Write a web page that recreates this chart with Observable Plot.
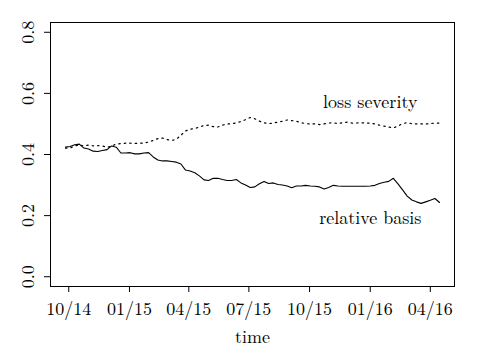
<!DOCTYPE html>
<html><head><meta charset="utf-8">
<script src="https://cdn.jsdelivr.net/npm/d3@7"></script>
<script src="https://cdn.jsdelivr.net/npm/@observablehq/plot@0.6"></script>
<style>body{margin:0;background:#fff} svg, svg text{font-family:"Latin Modern Roman","Liberation Serif",serif !important;}</style>
</head><body><div id="chart"></div>
<script>
const dates = [
"2014-09-26","2014-10-03","2014-10-10","2014-10-17","2014-10-24","2014-10-31","2014-11-07","2014-11-14","2014-11-21","2014-11-28",
"2014-12-05","2014-12-12","2014-12-19","2014-12-26","2015-01-02","2015-01-09","2015-01-16","2015-01-23","2015-01-30","2015-02-06",
"2015-02-13","2015-02-20","2015-02-27","2015-03-06","2015-03-13","2015-03-20","2015-03-27","2015-04-03","2015-04-10","2015-04-17",
"2015-04-24","2015-05-01","2015-05-08","2015-05-15","2015-05-22","2015-05-29","2015-06-05","2015-06-12","2015-06-19","2015-06-26",
"2015-07-03","2015-07-10","2015-07-17","2015-07-24","2015-07-31","2015-08-07","2015-08-14","2015-08-21","2015-08-28","2015-09-04",
"2015-09-11","2015-09-18","2015-09-25","2015-10-02","2015-10-09","2015-10-16","2015-10-23","2015-10-30","2015-11-06","2015-11-13",
"2015-11-20","2015-11-27","2015-12-04","2015-12-11","2015-12-18","2015-12-25","2016-01-01","2016-01-08","2016-01-15","2016-01-22",
"2016-01-29","2016-02-05","2016-02-12","2016-02-19","2016-02-26","2016-03-04","2016-03-11","2016-03-18","2016-03-25","2016-04-01",
"2016-04-08","2016-04-15"];
const relativeBasis = [
0.424,0.426,0.432,0.434,0.421,0.418,0.411,0.410,0.413,0.416,
0.428,0.424,0.405,0.405,0.406,0.402,0.402,0.405,0.406,0.392,
0.382,0.379,0.379,0.377,0.375,0.369,0.349,0.346,0.340,0.330,
0.317,0.315,0.322,0.322,0.318,0.315,0.315,0.318,0.307,0.300,
0.292,0.294,0.304,0.312,0.305,0.307,0.302,0.300,0.297,0.291,
0.297,0.297,0.299,0.297,0.296,0.294,0.287,0.292,0.299,0.297,
0.296,0.296,0.296,0.296,0.296,0.296,0.297,0.299,0.305,0.309,
0.312,0.322,0.304,0.284,0.264,0.251,0.245,0.240,0.245,0.250,
0.256,0.243];
const lossSeverity = [
0.421,0.421,0.428,0.431,0.428,0.431,0.428,0.429,0.428,0.423,
0.428,0.434,0.436,0.437,0.437,0.436,0.437,0.437,0.441,0.446,
0.452,0.454,0.449,0.446,0.450,0.463,0.477,0.483,0.485,0.490,
0.495,0.496,0.491,0.490,0.496,0.500,0.501,0.503,0.508,0.514,
0.521,0.517,0.509,0.504,0.501,0.503,0.506,0.509,0.513,0.511,
0.509,0.504,0.501,0.500,0.500,0.498,0.500,0.503,0.504,0.501,
0.504,0.506,0.503,0.503,0.504,0.503,0.503,0.500,0.496,0.493,
0.490,0.487,0.493,0.501,0.504,0.501,0.500,0.500,0.500,0.501,
0.503,0.503];
const xTickDates = ["2014-10-01","2015-01-01","2015-04-01","2015-07-01","2015-10-01","2016-01-01","2016-04-01"];
const yTicks = [0, 0.2, 0.4, 0.6, 0.8];
const labelTexts = ["loss severity", "relative basis"];
const labelDates = ["2016-01-01", "2016-01-01"];
const labelValues = [0.57, 0.19];
const xTitle = "time";

const parse = d3.utcParse("%Y-%m-%d");
const rows = dates.map((d, i) => ({date: parse(d), rb: relativeBasis[i], ls: lossSeverity[i]}));
const labels = labelTexts.map((t, i) => ({text: t, date: parse(labelDates[i]), v: labelValues[i]}));
const t0 = rows[0].date, t1 = rows[rows.length - 1].date;
const pad = (t1 - t0) * 0.04;
const FONT = "Latin Modern Roman, Liberation Serif, serif";

const chart = Plot.plot({
  width: 480, height: 360,
  marginLeft: 50, marginRight: 26, marginTop: 22, marginBottom: 74,
  style: {fontFamily: FONT, fontSize: "18px", color: "#000", background: "#fff"},
  x: {type: "utc", domain: [new Date(+t0 - pad), new Date(+t1 + pad)]},
  y: {domain: [-0.032, 0.832]},
  marks: [
    Plot.frame({stroke: "#000", strokeWidth: 1}),
    Plot.axisX({ticks: xTickDates.map(parse), tickFormat: d3.utcFormat("%m/%y"), tickSize: 6, tickPadding: 10, label: null, fontSize: 18}),
    Plot.axisY({ticks: yTicks, tickFormat: d3.format(".1f"), tickSize: 6, tickRotate: -90, tickPadding: 11, label: null, fontSize: 18}),
    Plot.lineY(rows, {x: "date", y: "ls", stroke: "#000", strokeWidth: 1.2, strokeDasharray: "1.5,4"}),
    Plot.lineY(rows, {x: "date", y: "rb", stroke: "#000", strokeWidth: 1.1}),
    Plot.text(labels, {x: "date", y: "v", text: "text", fontSize: 18, fill: "#000"}),
    Plot.text([xTitle], {frameAnchor: "bottom", text: d => d, dy: 56, fontSize: 18, fill: "#000"})
  ]
});
document.getElementById("chart").appendChild(chart);
</script>
</body></html>
